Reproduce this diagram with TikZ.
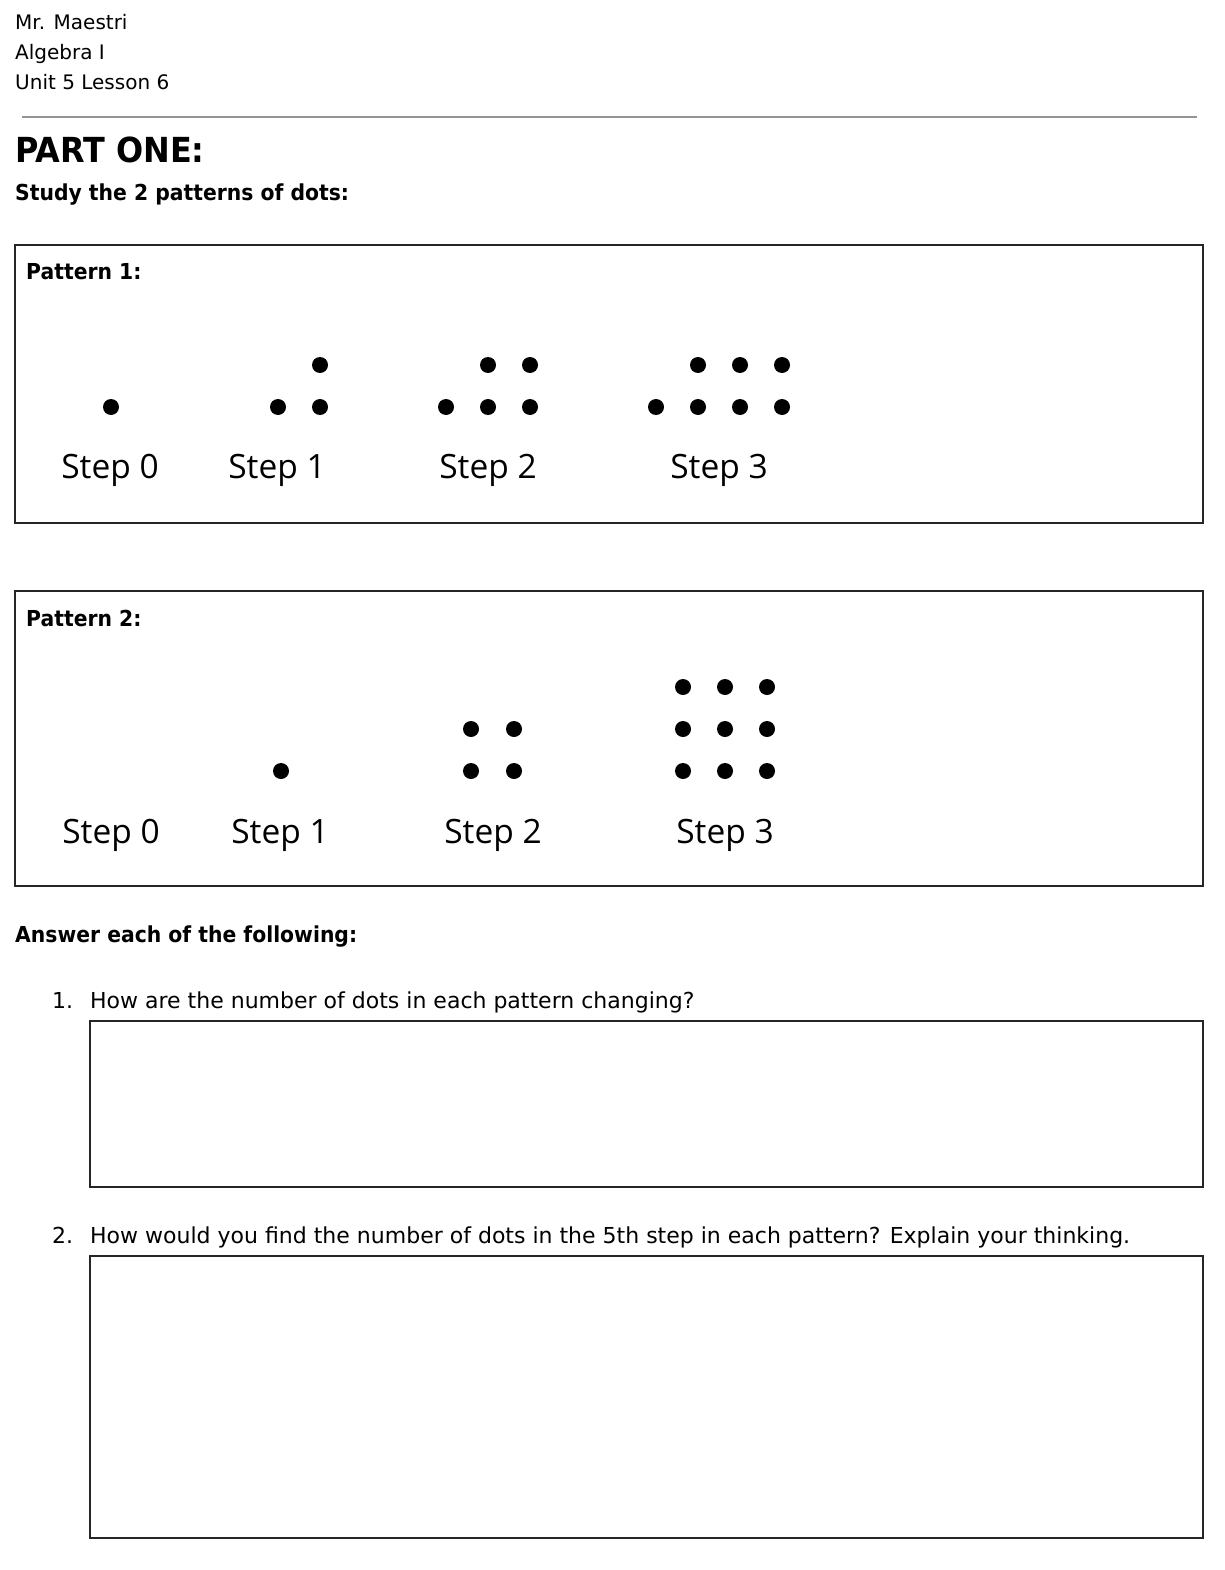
\documentclass[tikz,border=0pt]{standalone}
\usepackage{fontspec}
\setmainfont{DejaVu Sans}[BoldFeatures={FakeStretch=0.925}]
\newfontfamily\stepfont{Open Sans}
\begin{document}
\begin{tikzpicture}[x=1pt,y=-1pt,
  hdr/.style={anchor=base west,inner sep=0pt,font=\fontsize{20}{24}\selectfont},
  qtxt/.style={anchor=base west,inner sep=0pt,font=\fontsize{22}{26}\selectfont},
  btxt/.style={anchor=base west,inner sep=0pt,font=\fontsize{22}{26}\selectfont\bfseries},
  steplbl/.style={anchor=base,inner sep=0pt,font=\stepfont\fontsize{33.5}{38}\selectfont},
  frame/.style={draw=black!85,line width=1.6pt},
  dotc/.style={fill=black,draw=none}]
\useasboundingbox (0,0) rectangle (1224,1570);
\fill[white] (0,0) rectangle (1224,1570);
% header
\node[hdr] (h1) at (15,30) {Mr. Maestri};
\node[hdr] (h2) at (15,60) {Algebra I};
\node[hdr] (h3) at (15,90) {Unit 5 Lesson 6};
\draw[black!42,line width=2pt] (22,117) coordinate (r1) -- (1197,117) coordinate (r2);
\node[anchor=base west,inner sep=0pt,font=\fontsize{34.5}{40}\selectfont\bfseries] (part) at (15,163) {PART ONE:};
\node[btxt] (study) at (15,201) {Study the 2 patterns of dots:};
% pattern 1
\draw[frame] (15,245) rectangle (1203,523);
\node[btxt] (p1) at (26,279) {Pattern 1:};
\foreach \x/\y in {111/407, 278/407,320/407,320/365, 446/407,488/407,530/407,488/365,530/365,
                   656/407,698/407,740/407,782/407,698/365,740/365,782/365}
  \fill[dotc] (\x,\y) circle (8);
\node[steplbl] (a0) at (110,478) {Step 0};
\node[steplbl] (a1) at (277,478) {Step 1};
\node[steplbl] (a2) at (488,478) {Step 2};
\node[steplbl] (a3) at (719,478) {Step 3};
% pattern 2
\draw[frame] (15,591) rectangle (1203,886);
\node[btxt] (p2) at (26,626) {Pattern 2:};
\foreach \x/\y in {281/771, 471/729,514/729,471/771,514/771,
                   683/687,725/687,767/687,683/729,725/729,767/729,683/771,725/771,767/771}
  \fill[dotc] (\x,\y) circle (8);
\node[steplbl] (b0) at (111,843) {Step 0};
\node[steplbl] (b1) at (280,843) {Step 1};
\node[steplbl] (b2) at (493,843) {Step 2};
\node[steplbl] (b3) at (725,843) {Step 3};
% questions
\node[btxt] (ans) at (15,942) {Answer each of the following:};
\node[qtxt] (n1) at (52,1008) {1.};
\node[qtxt] (q1) at (90,1008) {How are the number of dots in each pattern changing?};
\draw[frame] (90,1021) rectangle (1203,1187);
\node[qtxt] (n2) at (52,1243) {2.};
\node[qtxt] (q2) at (90,1243) {How would you find the number of dots in the 5th step in each pattern? Explain your thinking.};
\draw[frame] (90,1256) rectangle (1203,1538);
\end{tikzpicture}
\end{document}
